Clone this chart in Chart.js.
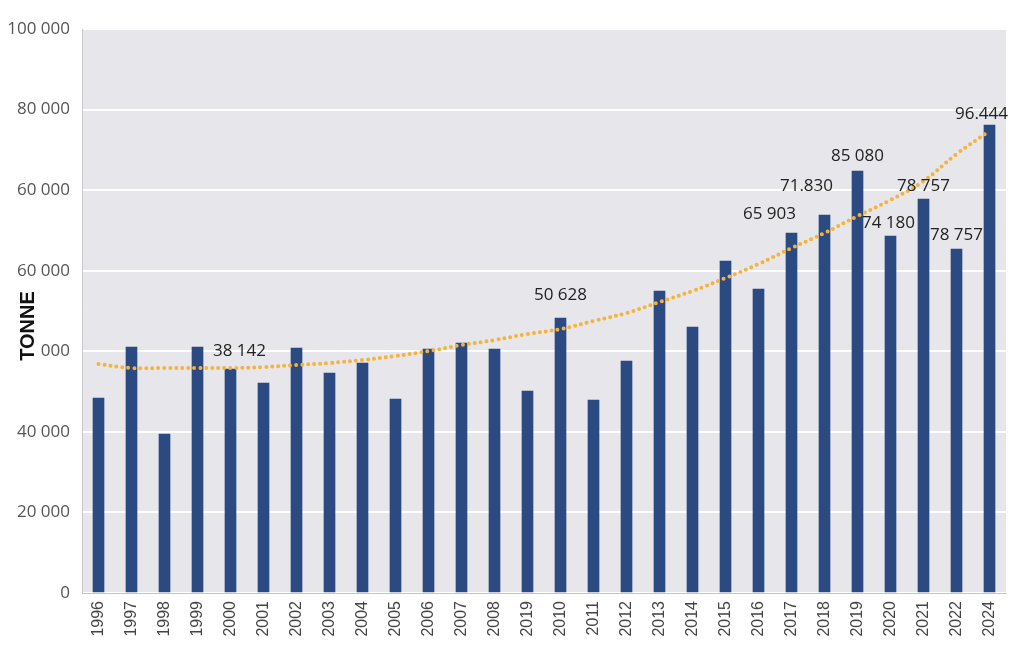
<!DOCTYPE html>
<html>
<head>
<meta charset="utf-8">
<script src="https://cdn.jsdelivr.net/npm/chart.js@4.4.1/dist/chart.umd.min.js"></script>
<style>
html,body{margin:0;padding:0;background:#fff;}
#wrap{width:1024px;height:650px;position:relative;}
</style>
</head>
<body>
<div id="wrap"><canvas id="c"></canvas></div>
<script>
// ---- data (values on the chart's own vertical scale) ----
const categories = ['1996','1997','1998','1999','2000','2001','2002','2003','2004','2005','2006','2007','2008','2019','2010','2011','2012','2013','2014','2015','2016','2017','2018','2019','2020','2021','2022','2024'];
const tonnage = [48400,61060,39460,61060,55600,52120,60810,54600,57090,48150,60560,62050,60560,50140,68260,47900,57580,74960,66020,82400,75450,89350,93820,104740,88610,97790,85380,116160];
const trend = [56840,55850,55850,55850,55850,56090,56590,57090,57830,58820,60060,61550,62790,64280,65520,67510,69500,72230,74960,78180,81660,85630,89350,93570,97540,102260,108960,114670];
const yTickLabels = ['0','20 000','40 000','000','60 000','60 000','80 000','100 000'];
const barLabelTexts = [null,null,null,null,'38 142',null,null,null,null,null,null,null,null,null,'50 628',null,null,null,null,null,'65 903','71.830',null,'85 080','74 180','78 757','78 757','96.444'];

// ---- plugins ----
const areaBg = {
  id: 'areaBg',
  beforeDraw(chart) {
    const {ctx, chartArea: a} = chart;
    ctx.save();
    ctx.fillStyle = '#e6e6eb';
    ctx.fillRect(a.left, a.top, a.right - a.left, a.bottom - a.top);
    ctx.restore();
  }
};
const barLabels = {
  id: 'barLabels',
  afterDatasetsDraw(chart, args, opts) {
    const meta = chart.getDatasetMeta(1);
    const ctx = chart.ctx;
    ctx.save();
    ctx.font = '17px "Open Sans"';
    ctx.fillStyle = '#222';
    ctx.textAlign = 'center';
    ctx.textBaseline = 'middle';
    barLabelTexts.forEach((t, i) => {
      if (!t) return;
      const el = meta.data[i];
      const off = opts.offsets[i] || [0, -14];
      ctx.fillText(t, el.x + off[0], el.y + off[1]);
    });
    ctx.restore();
  }
};
const yTitle = {
  id: 'yTitle',
  afterDraw(chart, args, opts) {
    const ctx = chart.ctx;
    ctx.save();
    ctx.translate(opts.x, opts.y);
    ctx.rotate(-Math.PI / 2);
    ctx.font = 'bold 20px "Liberation Sans"';
    ctx.fillStyle = '#111';
    ctx.textAlign = 'center';
    ctx.textBaseline = 'middle';
    ctx.fillText('TONNE', 0, 0);
    ctx.restore();
  }
};

new Chart(document.getElementById('c'), {
  type: 'bar',
  data: {
    labels: categories,
    datasets: [
      {
        type: 'line',
        data: trend,
        order: 0,
        borderColor: '#f5b33c',
        borderWidth: 4,
        borderDash: [0, 6],
        borderCapStyle: 'round',
        pointRadius: 0,
        tension: 0.4,
        fill: false
      },
      {
        type: 'bar',
        data: tonnage,
        order: 1,
        backgroundColor: '#2c4a82',
        borderWidth: 0,
        barThickness: 11
      }
    ]
  },
  options: {
    responsive: true,
    maintainAspectRatio: false,
    animation: false,
    layout: { padding: { top: 29, right: 18, left: 0, bottom: 0 } },
    plugins: {
      legend: { display: false },
      tooltip: { enabled: false },
      barLabels: {
        offsets: { 4: [9, -18], 14: [0, -23], 20: [11, -75], 21: [15, -47], 23: [0, -15], 24: [-2, -13], 25: [0, -13], 26: [0, -14], 27: [-8, -11] }
      },
      yTitle: { x: 28, y: 326 }
    },
    scales: {
      x: {
        afterFit(scale) { scale.height = 57; },
        grid: { display: false, drawTicks: false },
        border: { display: true, color: '#c4c4c8', width: 1 },
        ticks: {
          autoSkip: false,
          maxRotation: 90,
          minRotation: 90,
          padding: 8,
          color: '#444',
          font: { family: 'Liberation Sans', size: 16 }
        }
      },
      y: {
        min: 0,
        max: 140000,
        afterFit(scale) { scale.width = 82; },
        grid: { color: '#ffffff', lineWidth: 2, drawTicks: false },
        border: { display: true, color: '#c9c9cd', width: 1 },
        ticks: {
          stepSize: 20000,
          padding: 12,
          color: '#555',
          font: { family: 'Open Sans', size: 17 },
          callback: (v, i) => yTickLabels[i]
        }
      }
    }
  },
  plugins: [areaBg, barLabels, yTitle]
});
</script>
</body>
</html>
